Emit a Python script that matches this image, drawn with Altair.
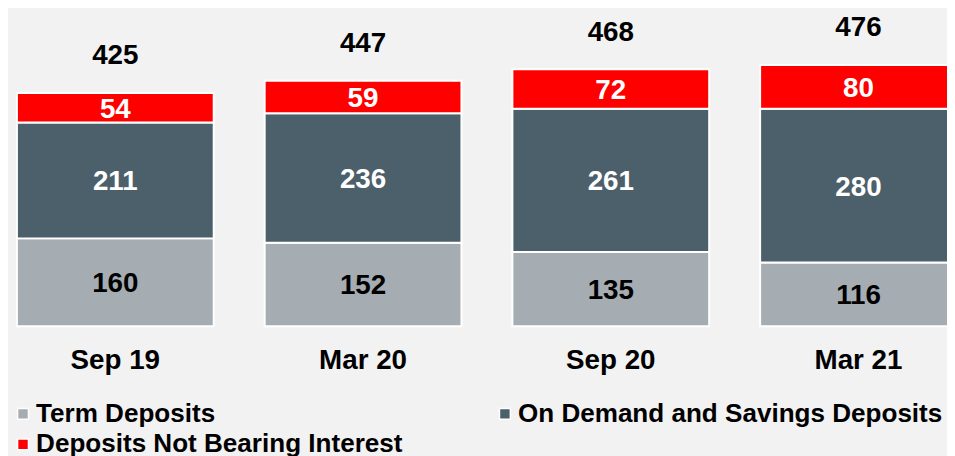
import altair as alt
import pandas as pd

categories = ["Sep 19", "Mar 20", "Sep 20", "Mar 21"]
series = ["Term Deposits", "On Demand and Savings Deposits", "Deposits Not Bearing Interest"]
term_deposits = [160, 152, 135, 116]
on_demand = [211, 236, 261, 280]
not_bearing = [54, 59, 72, 80]
colors = ["#a6adb2", "#4c606b", "#ff0000"]

rows = []
for i, cat in enumerate(categories):
    base = 0
    for k, (name, vals) in enumerate(zip(series, [term_deposits, on_demand, not_bearing])):
        v = vals[i]
        rows.append({"cat": cat, "series": name, "value": v, "ord": k,
                     "y0": base, "y1": base + v, "mid": base + v / 2})
        base += v
df = pd.DataFrame(rows)
tot = pd.DataFrame({"cat": categories,
                    "total": [a + b + c for a, b, c in zip(term_deposits, on_demand, not_bearing)]})

FONT = "Liberation Sans"
x = alt.X("cat:N", sort=categories, title=None,
          scale=alt.Scale(range=[9, 957], paddingInner=0.2056, paddingOuter=0, round=False),
          axis=alt.Axis(domain=False, ticks=False, tickSize=0, labelAngle=0,
                        labelFont=FONT, labelFontSize=28, labelFontWeight="bold",
                        labelColor="black", labelBaseline="alphabetic", labelPadding=43))
yscale = alt.Scale(domain=[0, 576.3], nice=False, zero=True)

bars = alt.Chart(df).mark_bar(stroke="white", strokeWidth=2).encode(
    x=x,
    y=alt.Y("y0:Q", scale=yscale, axis=None, title=None),
    y2="y1:Q",
    color=alt.Color("series:N", scale=alt.Scale(domain=series, range=colors),
                    legend=alt.Legend(title=None, orient="none", legendX=2, legendY=394,
                                      direction="horizontal",
                                      columns=2, columnPadding=90, rowPadding=4,
                                      symbolType="square", symbolSize=121,
                                      symbolStrokeColor="white", symbolStrokeWidth=1.5,
                                      labelFont=FONT, labelFontSize=26.3,
                                      labelFontWeight="bold", labelColor="black",
                                      labelOffset=0, padding=0, labelLimit=500)),
    order=alt.Order("ord:Q"),
)

inner = alt.Chart(df).mark_text(font=FONT, fontSize=28, fontWeight="bold",
                                baseline="alphabetic", dy=10).encode(
    x=alt.X("cat:N", sort=categories),
    y=alt.Y("mid:Q", scale=yscale),
    text="value:Q",
    color=alt.condition(alt.datum.series == "Term Deposits", alt.value("black"), alt.value("white")),
)

totals = alt.Chart(tot).mark_text(font=FONT, fontSize=28, fontWeight="bold",
                                  baseline="alphabetic", dy=-29, color="black").encode(
    x=alt.X("cat:N", sort=categories),
    y=alt.Y("total:Q", scale=yscale),
    text="total:Q",
)

chart = alt.layer(bars, inner, totals).properties(
    width=947, height=319, background="#f2f2f2",
    padding={"left": 0, "top": 0, "right": 0, "bottom": 129},
    autosize=alt.AutoSizeParams(type="none"),
).configure_view(stroke=None)

chart.save("out.html", embed_options={"renderer": "svg", "actions": False})
